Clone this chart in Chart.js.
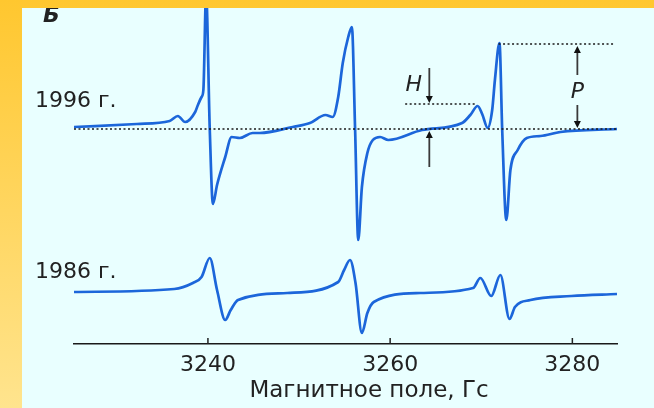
<!DOCTYPE html>
<html>
<head>
<meta charset="utf-8">
<script src="https://cdn.jsdelivr.net/npm/chart.js@4.4.0/dist/chart.umd.min.js"></script>
<style>
  html, body { margin: 0; padding: 0; }
  body { width: 654px; height: 408px; overflow: hidden; position: relative;
         background: linear-gradient(to bottom, #ffc72f, #ffe48e); }
  #panel { position: absolute; left: 22px; top: 8px; width: 632px; height: 400px; background: #e9ffff; }
  canvas { display: block; }
</style>
</head>
<body>
<div id="panel"><canvas id="epr" width="632" height="400"></canvas></div>
<script>
// magnetic field (G) and signal (arbitrary units)
const field1996 = [3225.3, 3232.2, 3235.8, 3236.7, 3237.5, 3238.6, 3238.9, 3239.3, 3239.5, 3239.8,
                   3240.2, 3240.55, 3241.0, 3241.9, 3242.6, 3243.5, 3244.9, 3245.7, 3249.3, 3251.2,
                   3252.9, 3253.7, 3254.3, 3254.8, 3255.4, 3255.8, 3256.15, 3256.5, 3256.9, 3257.5,
                   3258.1, 3258.9, 3259.8, 3263.5, 3267.9, 3268.8, 3269.6, 3270.1, 3270.7, 3271.2,
                   3271.5, 3272.0, 3272.3, 3272.75, 3273.2, 3274.0, 3275.0, 3276.5, 3278.7, 3284.9];
const signal1996 = [217, 220, 223, 228, 222, 232, 239, 247, 254, 350,
                    215, 140, 159, 187, 207, 206, 211, 211, 217, 221,
                    229, 227, 247, 281, 307, 317, 216, 104, 157, 191,
                    204, 207, 204, 214, 221, 229, 238, 230, 216, 234,
                    264, 301, 214, 124, 174, 194, 206, 208, 212, 215];

const field1986 = [3225.3, 3236.3, 3238.35, 3239.3, 3240.2, 3241.0, 3241.9, 3242.5, 3243.3, 3248.7,
                   3254.3, 3254.95, 3255.6, 3256.2, 3256.9, 3257.5, 3258.2, 3263.3, 3269.1, 3269.9,
                   3271.1, 3272.1, 3273.1, 3273.7, 3275.4, 3279.9, 3284.9];
const signal1986 = [52, 55, 61, 67, 86, 54, 24, 34, 44, 51,
                    62, 74, 84, 61, 11, 31, 42, 51, 56, 66,
                    48, 69, 25, 37, 44, 48, 50];

const tickValues = [3240, 3260, 3280];

// dotted reference levels for the 1996 trace
const baseLevel = 215, hLevel = 240, pLevel = 300;
const baseSpan = [3225.3, 3284.9];
const hSpan = [3261.65, 3269.3];
const pSpan = [3271.9, 3284.7];
const hArrowField = 3264.3;
const pArrowField = 3280.55;

const FONT = '"DejaVu Sans", "Liberation Sans", sans-serif';

const pts = (xs, ys) => xs.map((x, i) => ({ x: x, y: ys[i] }));
const level = (span, v) => [{ x: span[0], y: v }, { x: span[1], y: v }];

function dotted(data) {
    return {
        data: data,
        borderColor: '#1a1a1a',
        borderWidth: 1.6,
        borderDash: [2, 2.5],
        pointRadius: 0,
        fill: false
    };
}

function trace(data) {
    return {
        data: data,
        borderColor: '#1c66da',
        borderWidth: 2.7,
        pointRadius: 0,
        cubicInterpolationMode: 'monotone',
        fill: false
    };
}

function arrow(ctx, px, y0, y1) {
    const dir = y1 > y0 ? 1 : -1;
    ctx.beginPath();
    ctx.moveTo(px, y0);
    ctx.lineTo(px, y1 - dir * 5);
    ctx.stroke();
    ctx.beginPath();
    ctx.moveTo(px, y1);
    ctx.lineTo(px - 3.5, y1 - dir * 7);
    ctx.lineTo(px + 3.5, y1 - dir * 7);
    ctx.closePath();
    ctx.fill();
}

const extras = {
    id: 'extras',
    afterDatasetsDraw(chart) {
        const { ctx, chartArea } = chart;
        const x = chart.scales.x, y = chart.scales.y;
        ctx.save();

        // small tick marks standing up from the axis
        ctx.strokeStyle = '#222';
        ctx.lineWidth = 1.5;
        tickValues.forEach(v => {
            const px = x.getPixelForValue(v);
            ctx.beginPath();
            ctx.moveTo(px, chartArea.bottom);
            ctx.lineTo(px, chartArea.bottom - 6);
            ctx.stroke();
        });

        // H and P arrows
        ctx.strokeStyle = '#3a3a3a';
        ctx.fillStyle = '#111';
        ctx.lineWidth = 1.8;
        const hx = x.getPixelForValue(hArrowField);
        arrow(ctx, hx, y.getPixelForValue(276), y.getPixelForValue(hLevel + 1));
        arrow(ctx, hx, y.getPixelForValue(177), y.getPixelForValue(baseLevel - 2));
        const px = x.getPixelForValue(pArrowField);
        arrow(ctx, px, y.getPixelForValue(269), y.getPixelForValue(pLevel - 2));
        arrow(ctx, px, y.getPixelForValue(239), y.getPixelForValue(baseLevel + 1));

        ctx.fillStyle = '#222';
        ctx.font = 'italic 22px ' + FONT;
        ctx.textAlign = 'center';
        ctx.textBaseline = 'middle';
        ctx.fillText('H', x.getPixelForValue(3262.6), y.getPixelForValue(259));
        ctx.fillText('P', px, y.getPixelForValue(252));

        // series labels
        ctx.textAlign = 'left';
        ctx.textBaseline = 'alphabetic';
        ctx.font = '22px ' + FONT;
        ctx.fillText('1996 г.', 13, 99);
        ctx.fillText('1986 г.', 13, 270);
        ctx.font = 'italic bold 22px ' + FONT;
        ctx.fillText('Б', 21, 14);

        // axis title
        ctx.font = '23px ' + FONT;
        ctx.textAlign = 'center';
        ctx.textBaseline = 'middle';
        ctx.fillText('Магнитное поле, Гс', 347, 383);
        ctx.restore();
    }
};

new Chart(document.getElementById('epr'), {
    type: 'line',
    data: {
        datasets: [
            dotted(level(baseSpan, baseLevel)),
            dotted(level(hSpan, hLevel)),
            dotted(level(pSpan, pLevel)),
            trace(pts(field1996, signal1996)),
            trace(pts(field1986, signal1986))
        ]
    },
    options: {
        responsive: false,
        animation: false,
        layout: { padding: { left: 52, right: 37, top: 0, bottom: 0 } },
        scales: {
            x: {
                type: 'linear',
                min: 3225.3,
                max: 3284.9,
                afterBuildTicks: s => { s.ticks = tickValues.map(v => ({ value: v })); },
                afterFit: s => { s.height = 64; },
                grid: { display: false, drawTicks: false },
                border: { display: true, color: '#1a1a1a', width: 1.6 },
                ticks: {
                    color: '#222',
                    padding: 8,
                    maxRotation: 0,
                    font: { family: FONT, size: 22 },
                    callback: v => String(v)
                }
            },
            y: {
                display: false,
                min: 0,
                max: 336
            }
        },
        plugins: {
            legend: { display: false },
            tooltip: { enabled: false }
        }
    },
    plugins: [extras]
});
</script>
</body>
</html>
